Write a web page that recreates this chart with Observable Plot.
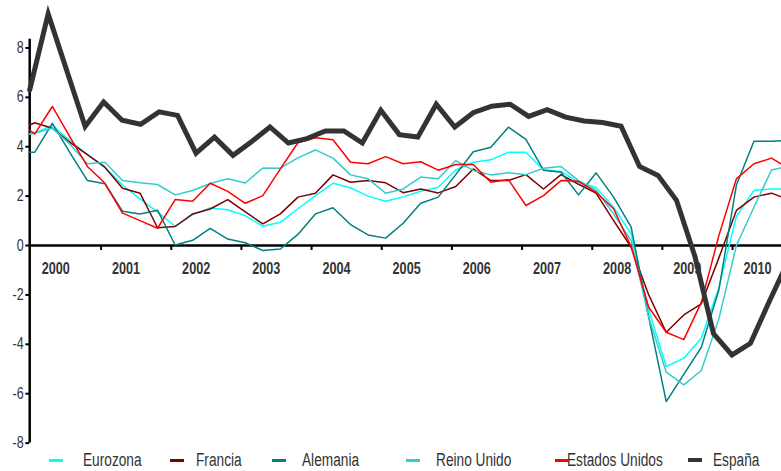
<!DOCTYPE html>
<html><head><meta charset="utf-8">
<script src="https://cdn.jsdelivr.net/npm/d3@7"></script>
<script src="https://cdn.jsdelivr.net/npm/@observablehq/plot@0.6"></script>
<style>
body{margin:0;background:#fff;}
#wrap{position:relative;width:781px;height:471px;overflow:hidden;font-family:"Liberation Sans",Arial,sans-serif;color:#333;}
.lab{position:absolute;top:448px;height:24px;line-height:24px;font-size:18px;white-space:nowrap;transform:scaleX(0.76);transform-origin:left center;}
.sw{position:absolute;top:459px;height:3px;width:14px;}
</style></head><body><div id="wrap"></div>
<script>
// Quarterly categories (thin series start one quarter earlier, partly hidden behind the axis)
const quarters = ["1999T4",
 "2000T1","2000T2","2000T3","2000T4","2001T1","2001T2","2001T3","2001T4",
 "2002T1","2002T2","2002T3","2002T4","2003T1","2003T2","2003T3","2003T4",
 "2004T1","2004T2","2004T3","2004T4","2005T1","2005T2","2005T3","2005T4",
 "2006T1","2006T2","2006T3","2006T4","2007T1","2007T2","2007T3","2007T4",
 "2008T1","2008T2","2008T3","2008T4","2009T1","2009T2","2009T3","2009T4",
 "2010T1","2010T2","2010T3","2010T4"];

const eurozona = [4.45,4.56,4.86,4.25,3.68,3.15,2.45,1.89,1.35,0.78,1.25,1.52,1.45,1.21,0.78,0.94,1.49,2.02,2.52,2.34,2.0,1.79,1.97,2.2,2.36,3.06,3.37,3.47,3.78,3.78,3.07,3.0,2.56,2.35,1.55,0.47,-2.6,-4.9,-4.56,-3.75,-1.7,1.18,2.23,2.29,2.29];
const francia = [4.65,4.97,4.75,4.18,3.68,3.17,2.32,2.12,0.72,0.77,1.28,1.48,1.86,1.36,0.88,1.28,1.96,2.12,2.86,2.56,2.63,2.54,2.14,2.29,2.13,2.39,3.1,2.63,2.63,2.87,2.29,2.87,2.48,2.12,1.01,-0.07,-2.0,-3.51,-2.81,-2.36,-0.5,1.42,1.96,2.12,1.85];
const alemania = [3.78,3.78,4.95,3.76,2.63,2.5,1.39,1.28,1.43,0.02,0.21,0.69,0.26,0.11,-0.2,-0.14,0.45,1.28,1.53,0.85,0.43,0.3,0.9,1.71,1.96,2.87,3.8,3.98,4.79,4.3,3.05,2.97,2.05,2.94,1.96,0.74,-2.9,-6.32,-5.22,-4.12,-1.8,2.45,4.22,4.22,4.26];
const reinoUnido = [4.4,4.55,4.75,4.1,3.31,3.37,2.63,2.54,2.47,2.05,2.23,2.51,2.7,2.53,3.14,3.13,3.55,3.87,3.54,2.86,2.7,2.12,2.29,2.77,2.7,3.44,3.04,2.86,2.95,2.87,3.13,3.2,2.63,2.24,1.28,0.2,-2.9,-5.13,-5.64,-5.06,-2.97,0.0,1.55,3.06,3.2];
const estadosUnidos = [5.0,4.52,5.63,4.4,3.2,2.52,1.31,1.01,0.7,1.86,1.79,2.52,2.19,1.71,2.02,3.1,4.16,4.36,4.28,3.37,3.31,3.6,3.31,3.39,3.05,3.28,3.28,2.56,2.67,1.62,2.02,2.63,2.6,2.16,1.49,-0.05,-2.5,-3.51,-3.81,-2.3,0.4,2.7,3.31,3.54,3.1];
// España: 2000T1 .. 2010T2, drawn on its own (secondary) category axis
const espanaQuarters = quarters.slice(1, 43);
const espana = [6.3,9.38,7.1,4.82,5.81,5.07,4.91,5.41,5.27,3.74,4.39,3.65,4.2,4.8,4.15,4.33,4.64,4.64,4.15,5.48,4.49,4.39,5.72,4.8,5.38,5.64,5.72,5.23,5.5,5.2,5.04,4.98,4.83,3.2,2.84,1.83,-0.45,-3.57,-4.43,-3.96,-2.3,-0.7];

const yearLabels = ["2000","2001","2002","2003","2004","2005","2006","2007","2008","2009","2010"];
const yTicks = [-8,-6,-4,-2,0,2,4,6,8];

const seriesNames = ["Eurozona","Francia","Alemania","Reino Unido","Estados Unidos","España"];
const seriesColors = ["#00FFFF","#800000","#008080","#33CCCC","#FF0000","#333333"];

// layout of the two category axes (in quarter units of the main axis)
const X0 = -0.2908, X1 = 42.571;
const SP_OFFSET = -0.2908, SP_STEP = 1.0536;

const thin = [eurozona, francia, alemania, reinoUnido, estadosUnidos].map((vals, s) =>
  vals.map((v, i) => ({serie: seriesNames[s], q: quarters[i], x: i - 1, v})));
const spain = espana.map((v, i) => ({serie: "España", q: espanaQuarters[i], x: SP_OFFSET + SP_STEP * i, v}));

const font = '"Liberation Sans",Arial,sans-serif';

const marks = [
  Plot.ruleY([0], {stroke: "black", strokeWidth: 2.5}),
  Plot.ruleX([X0], {y1: () => -8, y2: () => 8.35, stroke: "black", strokeWidth: 2.5}),
  Plot.ruleX(yearLabels.slice(1), {x: (d, i) => 4 * (i + 1) - 0.22, y1: () => 0, y2: () => -0.2, stroke: "black", strokeWidth: 2}),
  Plot.ruleY(yTicks, {y: d => d, x1: () => X0 - 0.22, x2: () => X0, stroke: "black", strokeWidth: 2}),
  Plot.text(yTicks, {x: () => X0, y: d => d, text: d => String(d), dx: -6, textAnchor: "end", fontSize: 16, fill: "#333", className: "ylab"}),
  Plot.text(yearLabels, {x: (d, i) => 4 * i + 1.2, y: () => -0.93, text: d => d, fontSize: 16, fontWeight: "bold", fill: "#333", className: "xlab"}),
  ...thin.map((rows, s) => Plot.line(rows, {x: "x", y: "v", stroke: seriesColors[s], strokeWidth: 1.5, clip: true})),
  Plot.line(spain, {x: "x", y: "v", stroke: seriesColors[5], strokeWidth: 5, strokeLinejoin: "miter", strokeMiterlimit: 4})
];

const chart = Plot.plot({
  width: 781, height: 447,
  marginLeft: 29.2, marginRight: 0, marginTop: 38.8, marginBottom: 4.4,
  x: {domain: [X0, X1], axis: null},
  y: {domain: [-8, 8.35], axis: null},
  style: {fontFamily: font, background: "white", overflow: "visible"},
  marks
});

// condense the text horizontally (narrow face of the original)
function condense(sel, s) {
  chart.querySelectorAll(sel).forEach(t => {
    const x = t.getAttribute("x");
    if (x != null) t.setAttribute("x", +x / s);
    const tr = t.getAttribute("transform") || "";
    t.setAttribute("transform", (tr + " scale(" + s + ",1)").trim());
  });
}
condense(".ylab text", 0.78);
condense(".xlab text", 0.79);

const wrap = document.getElementById("wrap");
wrap.appendChild(chart);

const swLeft = [49, 170, 272, 406, 555, 688];
const labLeft = [83, 196, 302, 436, 567, 713];
seriesNames.forEach((name, i) => {
  const sw = document.createElement("div");
  sw.className = "sw";
  sw.style.left = swLeft[i] + "px";
  sw.style.background = seriesColors[i];
  if (i === 5) { sw.style.height = "4px"; sw.style.top = "458px"; }
  wrap.appendChild(sw);
  const lab = document.createElement("div");
  lab.className = "lab";
  lab.style.left = labLeft[i] + "px";
  lab.textContent = name;
  wrap.appendChild(lab);
});
</script></body></html>
